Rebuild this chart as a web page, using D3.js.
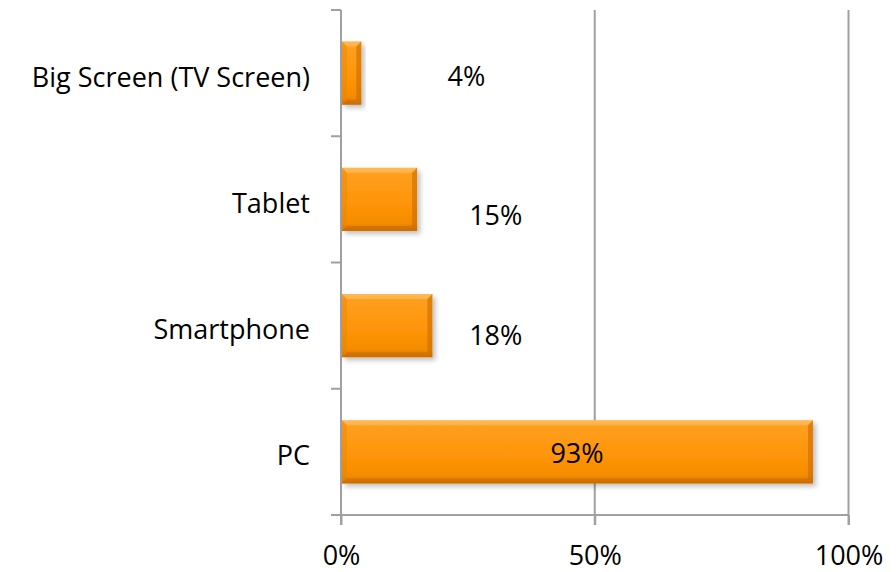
<!DOCTYPE html>
<html>
<head>
<meta charset="utf-8">
<script src="https://cdn.jsdelivr.net/npm/d3@7"></script>
<style>
	body { margin: 0; background: #fff; }
	text { font-family: "Open Sans", sans-serif; fill: #000; }
</style>
</head>
<body>
<div id="chart"></div>
<script>
const categories = ["Big Screen (TV Screen)", "Tablet", "Smartphone", "PC"]
const shares = [0.04, 0.15, 0.18, 0.93]
const xTicks = [0, 0.5, 1]

// where excel left each data label (x in axis units, dy in px from band centre)
const labelX = [0.247, 0.305, 0.305, 0.465]
const labelDy = [13, 26, 19.5, 11.5]

const width = 896, height = 572
const margin = { top: 10, right: 47.5, bottom: 57, left: 341 }
const w = width - margin.left - margin.right
const h = height - margin.top - margin.bottom
const fontSize = "27px"

const svg = d3.select("#chart").append("svg").attr("width", width).attr("height", height)

const defs = svg.append("defs")
const grad = defs.append("linearGradient").attr("id", "barGrad").attr("x1", 0).attr("y1", 0).attr("x2", 0).attr("y2", 1)
grad.append("stop").attr("offset", "0%").attr("stop-color", "#ffae40")
grad.append("stop").attr("offset", "10%").attr("stop-color", "#ff9e1e")
grad.append("stop").attr("offset", "55%").attr("stop-color", "#ff9508")
grad.append("stop").attr("offset", "88%").attr("stop-color", "#f48c00")
grad.append("stop").attr("offset", "100%").attr("stop-color", "#d07000")

const shadow = defs.append("filter").attr("id", "shadow").attr("x", "-10%").attr("y", "-20%").attr("width", "130%").attr("height", "150%")
shadow.append("feDropShadow").attr("dx", 3).attr("dy", 3).attr("stdDeviation", 2.5)
	.attr("flood-color", "#000").attr("flood-opacity", 0.25)

const g = svg.append("g").attr("transform", `translate(${margin.left},${margin.top})`)

const x = d3.scaleLinear().domain([0, 1]).range([0, w])
const y = d3.scaleBand().domain(categories).range([0, h]).paddingInner(0.5).paddingOuter(0.25)

const axisColor = "#a0a0a0"

// gridlines (run down past the axis as tick marks)
g.selectAll(".grid")
	.data(xTicks.slice(1))
	.enter()
	.append("line")
	.attr("x1", d => x(d)).attr("x2", d => x(d))
	.attr("y1", 0).attr("y2", h + 10)
	.attr("stroke", axisColor).attr("stroke-width", 2)

// bottom axis
const xAxis = g.append("g").attr("transform", `translate(0,${h})`)
	.call(d3.axisBottom(x).tickValues(xTicks).tickFormat(d3.format(".0%")).tickSize(10).tickPadding(21))
xAxis.select(".domain").remove()
xAxis.selectAll("line").attr("stroke", axisColor).attr("stroke-width", 2)
xAxis.selectAll("text").style("font-size", fontSize).attr("font-family", null)
xAxis.append("line").attr("x1", -10).attr("x2", w).attr("y1", 0).attr("y2", 0)
	.attr("stroke", axisColor).attr("stroke-width", 2)

// left axis: category labels, with ticks on band edges
const yAxis = g.append("g").call(d3.axisLeft(y).tickSize(0).tickPadding(31))
yAxis.select(".domain").remove()
yAxis.selectAll("text").style("font-size", fontSize).attr("font-family", null).attr("dy", "0.5em")

const edges = categories.map(c => y(c) - y.step() * y.paddingInner() / 2)
g.selectAll(".ytick")
	.data(edges)
	.enter()
	.append("line")
	.attr("x1", -10).attr("x2", 0)
	.attr("y1", d => d).attr("y2", d => d)
	.attr("stroke", axisColor).attr("stroke-width", 2)
g.append("line").attr("x1", 0).attr("x2", 0).attr("y1", 0).attr("y2", h + 10)
	.attr("stroke", axisColor).attr("stroke-width", 2)

// bars with a soft bevel
const bev = 5
const rows = categories.map((c, i) => ({ cat: c, v: shares[i], i }))
const bars = g.selectAll(".bar")
	.data(rows)
	.enter()
	.append("g")
	.attr("transform", d => `translate(${x(0) + 1},${y(d.cat)})`)

bars.append("rect")
	.attr("width", d => x(d.v) - 1)
	.attr("height", y.bandwidth())
	.attr("fill", "url(#barGrad)")
	.attr("filter", "url(#shadow)")

const bw = d => x(d.v) - 1
const bh = y.bandwidth()
bars.append("polygon")
	.attr("points", d => `0,0 ${bw(d)},0 ${bw(d) - bev},${bev} ${bev},${bev}`)
	.attr("fill", "#ffc060").attr("opacity", 0.6)
bars.append("polygon")
	.attr("points", d => `${bw(d)},0 ${bw(d)},${bh} ${bw(d) - bev},${bh - bev} ${bw(d) - bev},${bev}`)
	.attr("fill", "#c46800").attr("opacity", 0.55)
bars.append("polygon")
	.attr("points", d => `0,${bh} ${bw(d)},${bh} ${bw(d) - bev},${bh - bev} ${bev},${bh - bev}`)
	.attr("fill", "#c86a00").attr("opacity", 0.5)
bars.append("polygon")
	.attr("points", d => `0,0 ${bev},${bev} ${bev},${bh - bev} 0,${bh}`)
	.attr("fill", "#e88200").attr("opacity", 0.4)

// data labels
g.selectAll(".label")
	.data(rows)
	.enter()
	.append("text")
	.attr("x", d => x(labelX[d.i]))
	.attr("y", d => y(d.cat) + y.bandwidth() / 2 + labelDy[d.i])
	.attr("text-anchor", "middle")
	.style("font-size", fontSize)
	.text(d => d3.format(".0%")(d.v))
</script>
</body>
</html>
